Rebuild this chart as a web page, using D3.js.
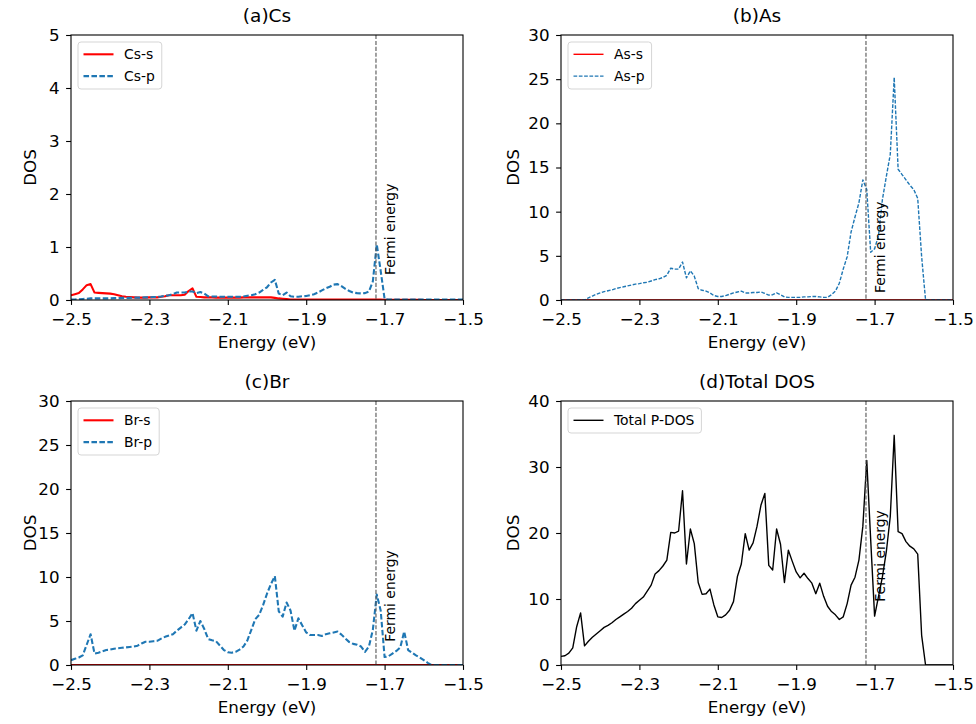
<!DOCTYPE html>
<html>
<head>
<meta charset="utf-8">
<script src="https://cdn.jsdelivr.net/npm/d3@7"></script>
<style>
  body { margin: 0; background: #fff; }
  svg { font-family: "DejaVu Sans", sans-serif; }
</style>
</head>
<body>
<svg id="chart" width="976" height="724"></svg>
<script>
// Energy grid (eV), sampled every 0.01 from -2.5 to -1.5
const energyStart = -2.5;
const energyStep = 0.01;
const energies = d3.range(101).map(i => +(energyStart + i * energyStep).toFixed(2));

const xTicks = [-2.5, -2.3, -2.1, -1.9, -1.7, -1.5];
const fermiEnergy = -1.722;

// (a) Cs
const csS = [
  0.09, 0.11, 0.13, 0.2, 0.28, 0.3, 0.14, 0.135, 0.13, 0.125,
  0.12, 0.11, 0.09, 0.07, 0.06, 0.055, 0.05, 0.045, 0.045, 0.045,
  0.05, 0.05, 0.05, 0.06, 0.07, 0.09, 0.09, 0.09, 0.09, 0.1,
  0.17, 0.22, 0.06, 0.055, 0.05, 0.05, 0.05, 0.045, 0.045, 0.045,
  0.045, 0.045, 0.045, 0.045, 0.05, 0.05, 0.05, 0.05, 0.05, 0.05,
  0.05, 0.05, 0.04, 0.03, 0.025, 0.02, 0.01, 0.01, 0.01, 0.01,
  0.01, 0.01, 0.01, 0.01, 0.01, 0.01, 0.01, 0.01, 0.01, 0.01,
  0.01, 0.01, 0.01, 0.01, 0.01, 0.01, 0.01, 0.01, 0.01, 0.01,
  0.005, 0.005, 0.005, 0.005, 0.005, 0.005, 0.005, 0.005, 0.005, 0.005,
  0, 0, 0, 0, 0, 0, 0, 0, 0, 0,
  0
];
const csP = [
  0.01, 0.01, 0.015, 0.02, 0.025, 0.03, 0.03, 0.03, 0.03, 0.03,
  0.03, 0.035, 0.035, 0.04, 0.04, 0.04, 0.045, 0.045, 0.045, 0.05,
  0.05, 0.055, 0.06, 0.065, 0.08, 0.09, 0.11, 0.14, 0.14, 0.14,
  0.16, 0.16, 0.13, 0.15, 0.12, 0.07, 0.065, 0.065, 0.06, 0.06,
  0.06, 0.06, 0.06, 0.06, 0.065, 0.08, 0.09, 0.11, 0.14, 0.19,
  0.24, 0.33, 0.38, 0.12, 0.09, 0.14, 0.07, 0.06, 0.06, 0.07,
  0.075, 0.09, 0.11, 0.14, 0.18, 0.22, 0.25, 0.29, 0.3, 0.26,
  0.21, 0.17, 0.14, 0.13, 0.125, 0.13, 0.16, 0.35, 1.05, 0.55,
  0.02, 0.01, 0.01, 0.01, 0.01, 0.01, 0.01, 0.01, 0.01, 0.01,
  0.01, 0.01, 0.01, 0.01, 0.01, 0.01, 0.01, 0.01, 0.01, 0.01,
  0.01
];

// (b) As
const asS = [
  0, 0, 0, 0, 0, 0, 0, 0, 0, 0,
  0, 0, 0, 0, 0, 0, 0, 0, 0, 0,
  0, 0, 0, 0, 0, 0, 0, 0, 0, 0,
  0, 0, 0, 0, 0, 0, 0, 0, 0, 0,
  0, 0, 0, 0, 0, 0, 0, 0, 0, 0,
  0, 0, 0, 0, 0, 0, 0, 0, 0, 0,
  0, 0, 0, 0, 0, 0, 0, 0, 0, 0,
  0, 0, 0, 0, 0, 0, 0, 0, 0, 0,
  0, 0, 0, 0, 0, 0, 0, 0, 0, 0,
  0, 0, 0, 0, 0, 0, 0, 0, 0, 0,
  0
];
const asP = [
  0, 0, 0, 0, 0, 0, 0, 0.25, 0.45, 0.65,
  0.8, 0.95, 1.05, 1.15, 1.3, 1.4, 1.5, 1.6, 1.7, 1.8,
  1.85, 1.95, 2.0, 2.15, 2.3, 2.4, 2.55, 2.8, 3.6, 3.5,
  3.5, 4.3, 2.5, 3.3, 2.7, 1.3, 1.1, 1.0, 0.8, 0.5,
  0.4, 0.4, 0.5, 0.65, 0.8, 0.9, 1.0, 0.8, 0.8, 0.85,
  0.85, 0.9, 0.75, 0.55, 0.6, 0.8, 0.6, 0.35, 0.3, 0.3,
  0.3, 0.3, 0.35, 0.35, 0.4, 0.4, 0.35, 0.3, 0.3, 0.6,
  1.0, 1.9, 3.5, 4.9, 7.7, 9.4, 11.0, 13.6, 12.5, 5.4,
  5.8, 7.3, 11.4, 14.0, 16.5, 25.2, 14.8, 14.2, 13.6, 13.0,
  12.5, 11.5, 4.9, 0, 0, 0, 0, 0, 0, 0,
  0
];

// (c) Br
const brS = [
  0, 0, 0, 0, 0, 0, 0, 0, 0, 0,
  0, 0, 0, 0, 0, 0, 0, 0, 0, 0,
  0, 0, 0, 0, 0, 0, 0, 0, 0, 0,
  0, 0, 0, 0, 0, 0, 0, 0, 0, 0,
  0, 0, 0, 0, 0, 0, 0, 0, 0, 0,
  0, 0, 0, 0, 0, 0, 0, 0, 0, 0,
  0, 0, 0, 0, 0, 0, 0, 0, 0, 0,
  0, 0, 0, 0, 0, 0, 0, 0, 0, 0,
  0, 0, 0, 0, 0, 0, 0, 0, 0, 0,
  0, 0, 0, 0, 0, 0, 0, 0, 0, 0,
  0
];
const brP = [
  0.55, 0.7, 0.85, 1.1, 2.3, 3.5, 1.3, 1.4, 1.55, 1.7,
  1.75, 1.85, 1.9, 1.95, 2.0, 2.05, 2.1, 2.2, 2.45, 2.65,
  2.65, 2.7, 2.75, 3.0, 3.2, 3.35, 3.5, 3.9, 4.25, 4.6,
  5.2, 5.9, 3.9, 5.0, 4.1, 2.95, 2.8, 2.7, 2.2, 1.7,
  1.45, 1.4, 1.5, 1.75, 2.1, 2.8, 4.0, 5.2, 5.7, 6.8,
  8.1, 9.2, 10.1, 6.1, 5.5, 7.1, 6.2, 3.9, 5.3, 4.5,
  3.7, 3.4, 3.4, 3.4, 3.3, 3.5, 3.6, 3.7, 3.8, 3.45,
  3.0, 2.6, 2.4, 2.3, 2.1, 1.5, 2.1, 4.0, 8.0, 6.2,
  0.9, 1.0, 1.3, 1.6, 2.0, 3.8, 1.7, 1.4, 1.1, 0.85,
  0.55, 0.25, 0, 0, 0, 0, 0, 0, 0, 0,
  0
];

// (d) Total
const totalDos = [
  1.3, 1.4, 1.8, 2.6, 5.8, 7.9, 2.9, 3.6, 4.2, 4.7,
  5.2, 5.7, 6.0, 6.4, 6.9, 7.3, 7.7, 8.1, 8.6, 9.3,
  9.8, 10.3, 11.2, 12.1, 13.8, 14.3, 15.0, 15.9, 20.1, 20.0,
  20.3, 26.4, 15.3, 20.6, 18.4, 12.5, 10.7, 10.8, 11.5, 9.1,
  7.3, 7.2, 7.6, 8.3, 9.6, 13.4, 15.3, 19.9, 17.4, 18.5,
  21.0, 24.2, 26.0, 15.1, 14.4, 20.6, 18.3, 12.5, 17.4, 15.7,
  14.1, 13.2, 13.9, 13.1, 12.4, 10.8, 12.4, 10.4, 8.9, 8.1,
  7.6, 6.9, 7.3, 9.3, 12.1, 13.3, 15.9, 21.0, 31.0, 19.0,
  7.4, 10.4, 13.4, 17.2, 22.5, 34.8, 20.2, 19.9, 18.7, 18.0,
  17.6, 16.8, 4.5, 0, 0, 0, 0, 0, 0, 0,
  0
];

const RED = '#ff0000';
const BLUE = '#1f77b4';

const svg = d3.select('#chart');

// panel layout
const panels = [
  { id: 'a', title: '(a)Cs', left: 71, right: 463, top: 35, bottom: 300, yMax: 5, yStep: 1,
    lw: 2.08, fermiTextY: 0.47, ylabelX: 30,
    series: [ { name: 'Cs-s', values: csS, color: RED, dashed: false },
              { name: 'Cs-p', values: csP, color: BLUE, dashed: true } ] },
  { id: 'b', title: '(b)As', left: 561, right: 953, top: 35, bottom: 300, yMax: 30, yStep: 5,
    lw: 1.39, fermiTextY: 0.8, ylabelX: 513,
    series: [ { name: 'As-s', values: asS, color: RED, dashed: false },
              { name: 'As-p', values: asP, color: BLUE, dashed: true } ] },
  { id: 'c', title: '(c)Br', left: 71, right: 463, top: 401, bottom: 665, yMax: 30, yStep: 5,
    lw: 2.08, fermiTextY: 2.65, ylabelX: 30,
    series: [ { name: 'Br-s', values: brS, color: RED, dashed: false },
              { name: 'Br-p', values: brP, color: BLUE, dashed: true } ] },
  { id: 'd', title: '(d)Total DOS', left: 561, right: 953, top: 401, bottom: 665, yMax: 40, yStep: 10,
    lw: 1.39, fermiTextY: 9.6, ylabelX: 513,
    series: [ { name: 'Total P-DOS', values: totalDos, color: '#000', dashed: false } ] }
];

function dashFor(lw) {
  return `${(lw * 2.67).toFixed(2)},${(lw * 1.15).toFixed(2)}`;
}

panels.forEach(p => drawPanel(p));

function drawPanel(p) {
  const x = d3.scaleLinear().domain([-2.5, -1.5]).range([p.left, p.right]);
  const y = d3.scaleLinear().domain([0, p.yMax]).range([p.bottom, p.top]);
  const g = svg.append('g').attr('class', 'panel-' + p.id);

  svg.append('clipPath').attr('id', 'clip-' + p.id)
    .append('rect')
    .attr('x', p.left).attr('y', p.top)
    .attr('width', p.right - p.left).attr('height', p.bottom - p.top);

  const plot = g.append('g').attr('clip-path', `url(#clip-${p.id})`);

  const line = d3.line()
    .x((d, i) => x(energies[i]))
    .y(d => y(d));

  p.series.forEach(s => {
    plot.append('path')
      .datum(s.values)
      .attr('d', line)
      .attr('fill', 'none')
      .attr('stroke', s.color)
      .attr('stroke-width', p.lw)
      .attr('stroke-dasharray', s.dashed ? dashFor(p.lw) : null)
      .attr('stroke-linejoin', 'round');
  });

  // Fermi level
  plot.append('line')
    .attr('x1', x(fermiEnergy)).attr('x2', x(fermiEnergy))
    .attr('y1', p.top).attr('y2', p.bottom)
    .attr('stroke', '#555')
    .attr('stroke-width', 1.1)
    .attr('stroke-dasharray', '4.1,1.8');

  g.append('text')
    .attr('transform', `translate(${x(-1.70) + 10.5},${y(p.fermiTextY)}) rotate(-90)`)
    .attr('font-size', 13.9)
    .text('Fermi energy');

  // axes
  const xAxis = g.append('g')
    .attr('transform', `translate(0,${p.bottom})`)
    .call(d3.axisBottom(x).tickValues(xTicks).tickFormat(d3.format('.1f'))
      .tickSize(4.9).tickPadding(8).tickSizeOuter(0));
  const yAxis = g.append('g')
    .attr('transform', `translate(${p.left},0)`)
    .call(d3.axisLeft(y).tickValues(d3.range(0, p.yMax + p.yStep / 2, p.yStep))
      .tickFormat(d3.format('d')).tickSize(4.9).tickPadding(6.6).tickSizeOuter(0));

  [xAxis, yAxis].forEach(a => {
    a.select('.domain').remove();
    a.selectAll('.tick line').attr('stroke', '#000').attr('stroke-width', 1.1);
    a.selectAll('.tick text').attr('font-size', 16.7).attr('fill', '#000')
      .attr('font-family', '"DejaVu Sans", sans-serif');
  });

  // frame
  g.append('rect')
    .attr('x', p.left).attr('y', p.top)
    .attr('width', p.right - p.left).attr('height', p.bottom - p.top)
    .attr('fill', 'none').attr('stroke', '#000').attr('stroke-width', 1.1);

  // labels
  g.append('text')
    .attr('x', (p.left + p.right) / 2).attr('y', p.top - 13)
    .attr('text-anchor', 'middle').attr('font-size', 18.5)
    .text(p.title);

  g.append('text')
    .attr('x', (p.left + p.right) / 2).attr('y', p.bottom + 48)
    .attr('text-anchor', 'middle').attr('font-size', 16.7)
    .text('Energy (eV)');

  g.append('text')
    .attr('transform', `translate(${p.ylabelX},${(p.top + p.bottom) / 2}) rotate(-90)`)
    .attr('text-anchor', 'middle').attr('dy', '0.35em').attr('font-size', 16.7)
    .text('DOS');

  // legend
  const lg = g.append('g').attr('transform', `translate(${p.left + 7},${p.top + 7})`);
  const box = lg.append('rect')
    .attr('rx', 3).attr('ry', 3)
    .attr('fill', 'rgba(255,255,255,0.8)')
    .attr('stroke', '#d5d5d5').attr('stroke-width', 1);
  let maxW = 0;
  p.series.forEach((s, k) => {
    const cy = 12.3 + 21.8 * k;
    lg.append('line')
      .attr('x1', 5.5).attr('x2', 35.5).attr('y1', cy).attr('y2', cy)
      .attr('stroke', s.color).attr('stroke-width', p.lw)
      .attr('stroke-dasharray', s.dashed ? dashFor(p.lw) : null);
    const t = lg.append('text')
      .attr('x', 46).attr('y', cy + 5)
      .attr('font-size', 13.9)
      .text(s.name);
    maxW = Math.max(maxW, t.node().getComputedTextLength());
  });
  box.attr('width', 46 + maxW + 7).attr('height', 3 + 22 * p.series.length);
}
</script>
</body>
</html>
